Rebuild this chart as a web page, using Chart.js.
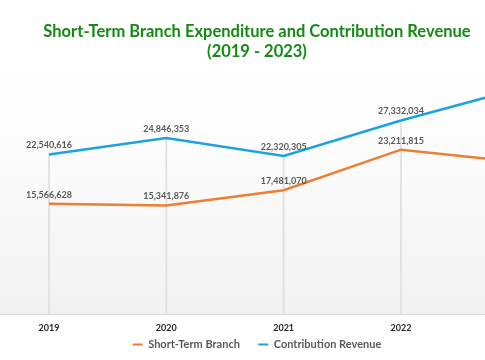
<!DOCTYPE html>
<html>
<head>
<meta charset="utf-8">
<script src="https://cdn.jsdelivr.net/npm/chart.js@4"></script>
<style>
  html, body { margin: 0; padding: 0; background: #fff; overflow: hidden; }
  body { width: 485px; height: 360px; position: relative; }
  #chart { position: absolute; left: -63px; top: 0; }
</style>
</head>
<body>
<canvas id="chart" width="640" height="360"></canvas>
<script>
// values (2023 is partly cut off on the right, estimated)
const years = ["2019", "2020", "2021", "2022", "2023"];
const shortTermBranch = [15566628, 15341876, 17481070, 23211815, 21480000];
const contributionRevenue = [22540616, 24846353, 22320305, 27332034, 31830000];
const chartTitle = ["Short-Term Branch Expenditure and Contribution Revenue", "(2019 - 2023)"];

const ORANGE = "#ED7D31";
const BLUE = "#1CA3DE";

// gradient behind the plot area, white at top to light grey at bottom
const plotBackground = {
  id: "plotBackground",
  beforeDraw(chart) {
    const { ctx, chartArea: a } = chart;
    const g = ctx.createLinearGradient(0, a.top, 0, a.bottom);
    g.addColorStop(0, "#ffffff");
    g.addColorStop(0.3, "#fcfcfc");
    g.addColorStop(1, "#f1f1f1");
    ctx.save();
    ctx.fillStyle = g;
    ctx.fillRect(a.left, a.top, a.right - a.left, a.bottom - a.top);
    ctx.restore();
  }
};

// value labels above each point
const valueLabels = {
  id: "valueLabels",
  afterDatasetsDraw(chart) {
    const ctx = chart.ctx;
    ctx.save();
    ctx.font = "bold 9px Lato";
    ctx.fillStyle = "#595959";
    ctx.textAlign = "center";
    ctx.textBaseline = "middle";
    chart.data.datasets.forEach((ds, i) => {
      if (ds.type !== "line") return;
      chart.getDatasetMeta(i).data.forEach((pt, j) => {
        ctx.fillText(ds.data[j].toLocaleString("en-US"), pt.x, pt.y - 9);
      });
    });
    ctx.restore();
  }
};

new Chart(document.getElementById("chart"), {
  data: {
    labels: years,
    datasets: [
      {
        type: "line",
        label: "Short-Term Branch",
        data: shortTermBranch,
        borderColor: ORANGE,
        backgroundColor: ORANGE,
        borderWidth: 2.5,
        pointRadius: 0,
        tension: 0,
        order: 1
      },
      {
        type: "line",
        label: "Contribution Revenue",
        data: contributionRevenue,
        borderColor: BLUE,
        backgroundColor: BLUE,
        borderWidth: 2.5,
        pointRadius: 0,
        tension: 0,
        order: 0
      },
      {
        // drop lines from the top series down to the axis
        type: "bar",
        label: "drop",
        data: contributionRevenue,
        backgroundColor: "#dedede",
        barThickness: 1,
        order: 5
      }
    ]
  },
  options: {
    responsive: false,
    animation: false,
    layout: { padding: 0 },
    scales: {
      x: {
        offset: true,
        grid: { display: false },
        border: { display: true, color: "#d9d9d9", width: 1 },
        ticks: { color: "#262626", font: { family: "Lato", size: 9, weight: "bold" }, padding: 1 },
        afterFit(s) { s.height = 20; }
      },
      y: {
        min: 0,
        max: 35000000,
        grid: { display: false },
        border: { display: false },
        ticks: { display: false },
        afterFit(s) { s.width = 53.3; }
      }
    },
    plugins: {
      title: {
        display: true,
        text: chartTitle,
        color: "#138A13",
        font: { family: "Lato", size: 16.5, weight: "bold", lineHeight: 1.25 },
        padding: { top: 21, bottom: 4 }
      },
      legend: {
        position: "bottom",
        labels: {
          color: "#595959",
          font: { family: "Lato", size: 11, weight: "bold" },
          boxWidth: 10,
          boxHeight: 2,
          padding: 5,
          filter: (item) => item.text !== "drop",
          generateLabels(chart) {
            // trailing spaces widen the gap between the two legend entries
            return chart.data.datasets.map((ds, i) => ({
              text: i === 0 ? ds.label + "     " : ds.label,
              fillStyle: ds.borderColor || ds.backgroundColor,
              strokeStyle: ds.borderColor || ds.backgroundColor,
              lineWidth: 0,
              hidden: false,
              datasetIndex: i,
              fontColor: "#595959"
            }));
          }
        }
      },
      tooltip: { enabled: false }
    }
  },
  plugins: [plotBackground, valueLabels]
});
</script>
</body>
</html>
